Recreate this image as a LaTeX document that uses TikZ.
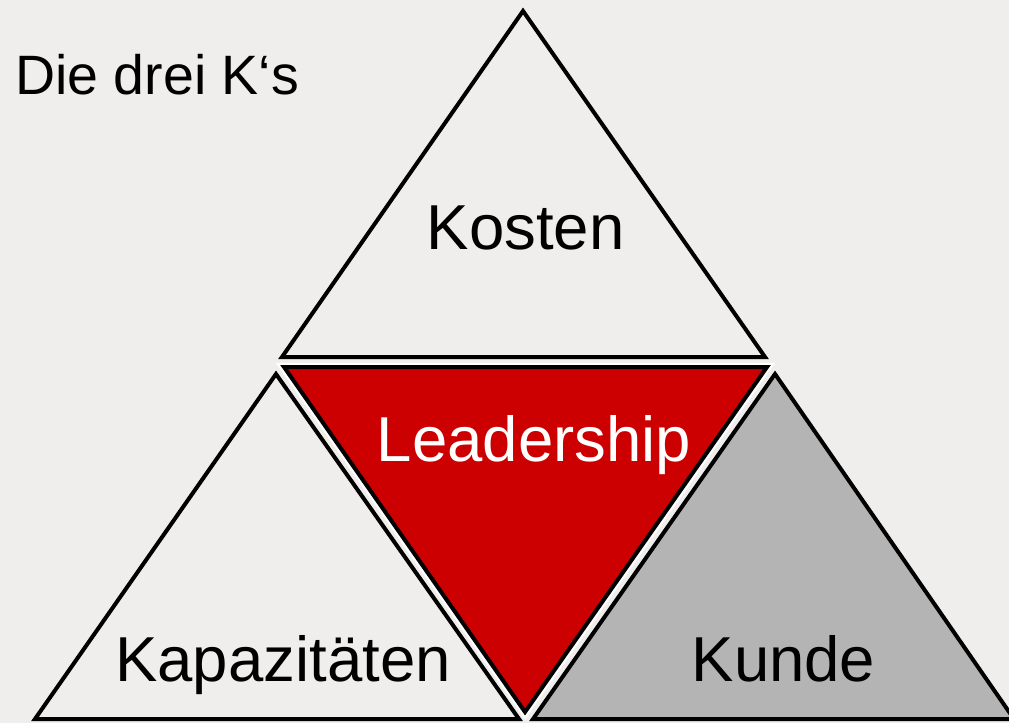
\documentclass[tikz,border=0pt]{standalone}
\usepackage{fontspec}
\setmainfont{Liberation Sans}
\definecolor{bg}{RGB}{239,238,236}
\definecolor{leadred}{RGB}{204,0,0}
\definecolor{kundegray}{RGB}{180,180,180}
\tikzset{
  tri/.style={draw=black, line width=4pt, line join=miter},
  lbl/.style={anchor=base, inner sep=0pt, font=\fontsize{63.5}{70}\selectfont},
}
\begin{document}
\begin{tikzpicture}[x=1pt,y=-1pt]
\fill[bg] (0,0) rectangle (1009,723);
\useasboundingbox (0,0) rectangle (1009,723);
\begin{scope}
\clip (0,0) rectangle (1009,723);
% top triangle
\coordinate (tA) at (523,11);
\coordinate (tL) at (282,357);
\coordinate (tR) at (765,357);
\draw[tri, fill=bg] (tA) -- (tL) -- (tR) -- cycle;
% left triangle
\coordinate (lA) at (276,374);
\coordinate (lL) at (35,719);
\coordinate (lR) at (519,719);
\draw[tri, fill=bg] (lA) -- (lL) -- (lR) -- cycle;
% right triangle
\coordinate (rA) at (775,374);
\coordinate (rL) at (533,719);
\coordinate (rR) at (1014,719);
\draw[tri, fill=kundegray] (rA) -- (rL) -- (rR) -- cycle;
% red triangle
\coordinate (mL) at (284,367);
\coordinate (mR) at (767,367);
\coordinate (mB) at (525,712);
\draw[white, line width=8.5pt, line join=miter] (mL) -- (mR) -- (mB) -- cycle;
\draw[tri, fill=leadred] (mL) -- (mR) -- (mB) -- cycle;
\end{scope}
% labels
\node[anchor=base west, inner sep=0pt, font=\fontsize{55.5}{60}\selectfont] (title) at (15,94) {Die drei K‘s};
\node[lbl] (kosten) at (525.5,249.5) {Kosten};
\node[lbl, text=white] (lead) at (534,461) {Leadership};
\node[lbl] (kap) at (283,681) {Kapazitäten};
\node[lbl] (kunde) at (783.5,681) {Kunde};
\end{tikzpicture}
\end{document}
